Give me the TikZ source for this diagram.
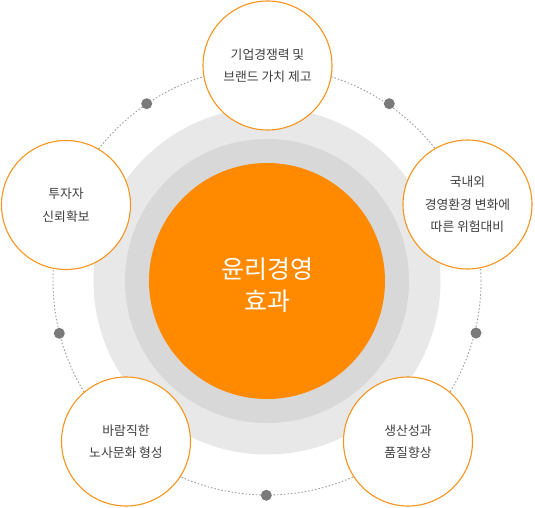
\documentclass[tikz,border=0pt]{standalone}
\usepackage{fontspec}
\setmainfont{Noto Sans CJK KR}
\usetikzlibrary{positioning}
\definecolor{ethOrange}{HTML}{FF8A00}
\definecolor{ethLine}{HTML}{F7941D}
\definecolor{ethOuter}{HTML}{E8E8E8}
\definecolor{ethInner}{HTML}{D8D8D8}
\definecolor{ethText}{HTML}{3F3F3F}
\definecolor{ethDash}{HTML}{9A9A9A}
\definecolor{ethDot}{HTML}{7A7A7A}
\tikzset{
  ring/.style={circle, draw=none, inner sep=0pt},
  core/.style={
    circle, fill=ethOrange, minimum size=236pt, inner sep=0pt,
    text=white, font=\fontsize{25}{32}\selectfont, align=center
  },
  effect/.style={
    circle, draw=ethLine, line width=1.1pt, fill=white, minimum size=129pt,
    inner sep=0pt, text=ethText, font=\fontsize{12.8}{22.5}\selectfont, align=center
  },
  marker/.style={circle, fill=ethDot, minimum size=11pt, inner sep=0pt},
  orbit/.style={draw=ethDash, line width=0.9pt, dash pattern=on 1.5pt off 2pt}
}
\begin{document}
\begin{tikzpicture}[x=1pt, y=-1pt]
  \useasboundingbox (0,0) rectangle (535,508);
  \node[ring, fill=ethOuter, minimum size=347pt] (outerring) at (267,281) {};
  \node[ring, fill=ethInner, minimum size=284pt] (innerring) at (267,281) {};
  \node[core] (ethics) at (267,281) {};
  \node[text=white, font=\fontsize{25}{32}\selectfont, align=center] (title) at (267,285) {윤리경영\\효과};
  \draw[orbit] (ethics.center) circle[radius=214pt];
  \node[marker] (m1) at (146.7,103.7) {};
  \node[marker] (m2) at (389.3,103.7) {};
  \node[marker] (m3) at (476,333) {};
  \node[marker] (m4) at (266.3,495.3) {};
  \node[marker] (m5) at (59.3,333.3) {};
  \node[effect] (brand) at (267.5,65.5) {기업경쟁력 및\\브랜드 가치 제고};
  \node[effect] (risk) at (467.5,204.5) {국내외\\경영환경 변화에\\따른 위험대비};
  \node[effect] (quality) at (408,441.5) {생산성과\\품질향상};
  \node[effect] (labor) at (126,441.5) {바람직한\\노사문화 형성};
  \node[effect] (invest) at (66,205) {투자자\\신뢰확보};
\end{tikzpicture}
\end{document}
